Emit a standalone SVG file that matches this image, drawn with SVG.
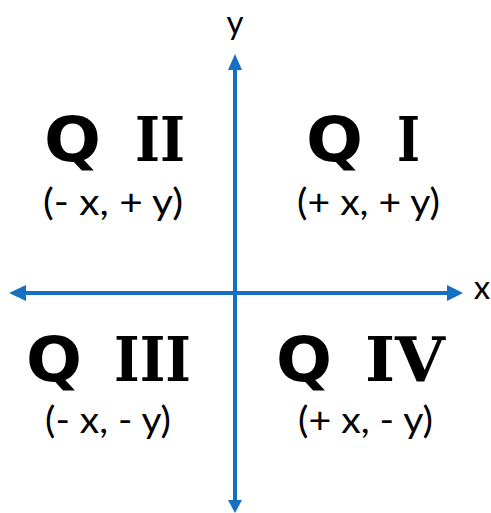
<svg xmlns="http://www.w3.org/2000/svg" width="491" height="513" viewBox="0 0 491 513">
<defs>
<style>
.q{font-family:"DejaVu Sans",sans-serif;font-weight:bold;font-size:62px;fill:#000}
.r{font-family:"DejaVu Serif",serif;font-weight:bold;font-size:62px;fill:#000}
.s{font-family:Lato,"Open Sans",sans-serif;font-size:36px;fill:#000}
.ax{font-family:Lato,"Open Sans",sans-serif;font-size:33px;fill:#000}
.axis{stroke:#1570C2;stroke-width:4;fill:none}
.head{fill:#1570C2}
</style>
</defs>
<rect width="491" height="513" fill="#fff"/>
<g id="connectors">
<line class="axis" x1="235" y1="66" x2="235" y2="502"/>
<polygon class="head" points="235,54 228,70 242,70"/>
<polygon class="head" points="235,513 228,500 242,500"/>
<line class="axis" x1="22" y1="293" x2="450" y2="293"/>
<polygon class="head" points="9,293 26,285 26,301"/>
<polygon class="head" points="463,293 447,285 447,301"/>
</g>
<g id="axis-y"><text class="ax" x="235" y="34" text-anchor="middle">y</text></g>
<g id="axis-x"><text class="ax" x="482" y="299" text-anchor="middle">x</text></g>
<g id="q2">
<text class="q" x="44" y="161" textLength="57" lengthAdjust="spacingAndGlyphs">Q</text>
<text class="r" x="135" y="161" textLength="50" lengthAdjust="spacingAndGlyphs">II</text>
<text class="s" x="43" y="215" textLength="140" lengthAdjust="spacingAndGlyphs">(- x, + y)</text>
</g>
<g id="q1">
<text class="q" x="306" y="161" textLength="57" lengthAdjust="spacingAndGlyphs">Q</text>
<text class="r" x="397" y="161" textLength="23" lengthAdjust="spacingAndGlyphs">I</text>
<text class="s" x="297" y="215" textLength="143" lengthAdjust="spacingAndGlyphs">(+ x, + y)</text>
</g>
<g id="q3">
<text class="q" x="26" y="381" textLength="56" lengthAdjust="spacingAndGlyphs">Q</text>
<text class="r" x="114" y="381" textLength="77" lengthAdjust="spacingAndGlyphs">III</text>
<text class="s" x="45" y="433" textLength="126" lengthAdjust="spacingAndGlyphs">(- x, - y)</text>
</g>
<g id="q4">
<text class="q" x="276" y="381" textLength="56" lengthAdjust="spacingAndGlyphs">Q</text>
<text class="r" x="365" y="381" textLength="80" lengthAdjust="spacingAndGlyphs">IV</text>
<text class="s" x="298" y="433" textLength="135" lengthAdjust="spacingAndGlyphs">(+ x, - y)</text>
</g>
</svg>
